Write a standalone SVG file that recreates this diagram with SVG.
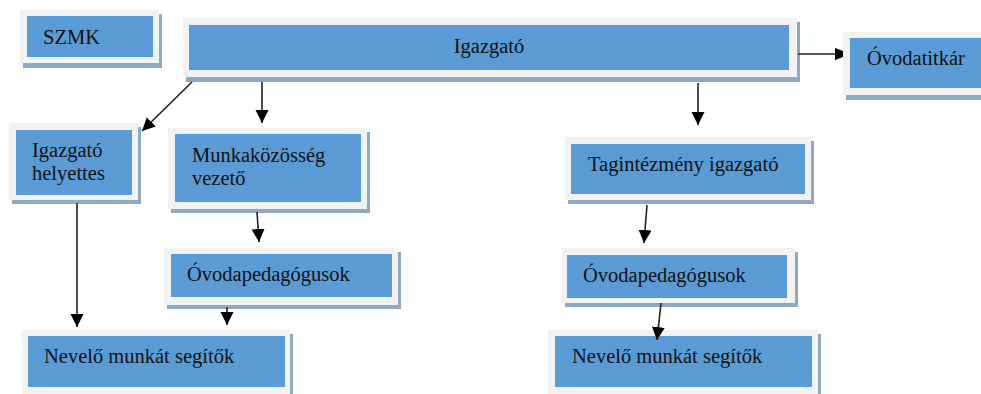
<svg xmlns="http://www.w3.org/2000/svg" width="981" height="394" viewBox="0 0 981 394">
<defs>
<style>
.sh{fill:#8eaac3}
.out{fill:#f2f2f2}
.in{fill:#5b9bd5}
.t{font-size:20.5px;fill:#111}
.c{stroke:#222;stroke-width:1.6;fill:none;marker-end:url(#ah)}
</style>
<marker id="ah" markerUnits="userSpaceOnUse" markerWidth="14" markerHeight="14" refX="13" refY="6.5" orient="auto">
<path d="M0,0 L13,6.5 L0,13 z" fill="#000"/>
</marker>
<marker id="ah2" markerUnits="userSpaceOnUse" markerWidth="10" markerHeight="12" refX="8" refY="6" orient="auto">
<path d="M0,0 L8,3 L8,9 L0,12 z" fill="#000"/>
</marker>
</defs>
<rect width="981" height="394" fill="#fff"/>
<g font-family="'Liberation Serif', 'DejaVu Serif', 'Times New Roman', serif">
<g id="szmk">
<rect class="sh" x="23" y="14" width="139" height="54"/>
<rect class="out" x="20" y="10" width="139" height="53"/>
<rect class="in" x="27" y="16" width="126" height="41"/>
<text class="t" x="43" y="44">SZMK</text>
</g>
<g id="igazgato">
<rect class="sh" x="186" y="22" width="614" height="60"/>
<rect class="out" x="183" y="18" width="614" height="59"/>
<rect class="in" x="189" y="25" width="600" height="45"/>
<text class="t" x="489" y="53" text-anchor="middle">Igazgató</text>
</g>
<g id="ovodatitkar">
<rect class="sh" x="846" y="36" width="140" height="64"/>
<rect class="out" x="843" y="32" width="140" height="63"/>
<rect class="in" x="850" y="38" width="131" height="50"/>
<text class="t" x="867" y="65">Óvodatitkár</text>
</g>
<g id="igazgato-helyettes">
<rect class="sh" x="12" y="127" width="129" height="77"/>
<rect class="out" x="9" y="123" width="129" height="77"/>
<rect class="in" x="16" y="130" width="116" height="65"/>
<text class="t" x="32" y="157">Igazgató</text>
<text class="t" x="32" y="180">helyettes</text>
</g>
<g id="munkakozosseg">
<rect class="sh" x="171" y="132" width="199" height="81"/>
<rect class="out" x="168" y="128" width="199" height="81"/>
<rect class="in" x="175" y="134" width="186" height="68"/>
<text class="t" x="192" y="162">Munkaközösség</text>
<text class="t" x="192" y="185">vezető</text>
</g>
<g id="tagintezmeny">
<rect class="sh" x="568" y="141" width="246" height="63"/>
<rect class="out" x="565" y="137" width="246" height="63"/>
<rect class="in" x="571" y="144" width="234" height="50"/>
<text class="t" x="588" y="171">Tagintézmény igazgató</text>
</g>
<g id="ovodapedagogusok-bal">
<rect class="sh" x="167" y="252" width="234" height="57"/>
<rect class="out" x="164" y="248" width="234" height="57"/>
<rect class="in" x="171" y="254" width="221" height="43"/>
<text class="t" x="187" y="281">Óvodapedagógusok</text>
</g>
<g id="ovodapedagogusok-jobb">
<rect class="sh" x="565" y="252" width="233" height="55"/>
<rect class="out" x="562" y="248" width="233" height="55"/>
<rect class="in" x="567" y="255" width="220" height="43"/>
<text class="t" x="583" y="282">Óvodapedagógusok</text>
</g>
<g id="nevelo-bal">
<rect class="sh" x="25" y="334" width="268" height="66"/>
<rect class="out" x="22" y="330" width="268" height="66"/>
<rect class="in" x="28" y="336" width="257" height="51"/>
<text class="t" x="44" y="363">Nevelő munkát segítők</text>
</g>
<g id="nevelo-jobb">
<rect class="sh" x="551" y="334" width="270" height="66"/>
<rect class="out" x="548" y="330" width="270" height="66"/>
<rect class="in" x="555" y="336" width="257" height="51"/>
<text class="t" x="572" y="363">Nevelő munkát segítők</text>
</g>
</g>
<g id="connectors">
<line class="c" x1="192" y1="82" x2="142" y2="131"/>
<line class="c" x1="262" y1="82" x2="262" y2="123"/>
<line class="c" x1="698" y1="83" x2="698" y2="125"/>
<line x1="798" y1="54" x2="843" y2="54" stroke="#222" stroke-width="1.6" marker-end="url(#ah2)"/>
<line class="c" x1="77" y1="203" x2="77" y2="327"/>
<line class="c" x1="257" y1="212" x2="259" y2="242"/>
<line class="c" x1="227" y1="307" x2="227" y2="325"/>
<line class="c" x1="647" y1="205" x2="644" y2="243"/>
<line class="c" x1="661" y1="303" x2="657" y2="340"/>
</g>
</svg>
